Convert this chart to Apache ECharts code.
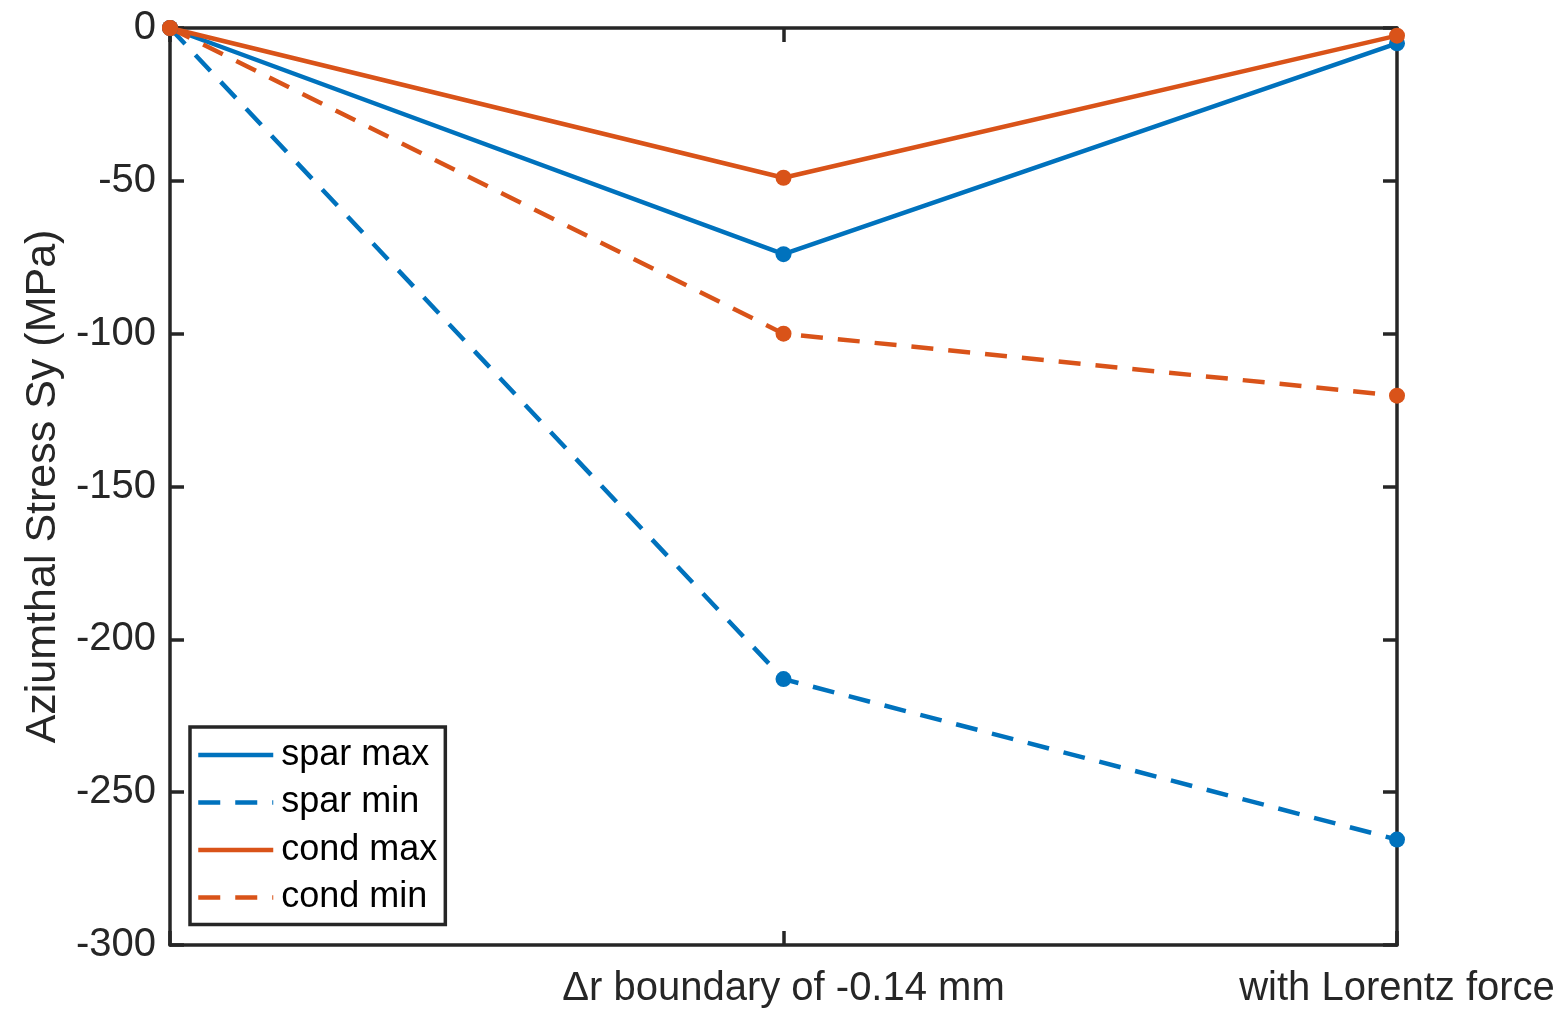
<!DOCTYPE html>
<html><head><meta charset="utf-8">
<script src="https://cdn.jsdelivr.net/npm/echarts@6/dist/echarts.min.js"></script>
<style>html,body{margin:0;padding:0;background:#fff}#c{width:1562px;height:1013px}</style>
</head><body><div id="c"></div>
<script>
const categories = ['', 'Δr boundary of -0.14 mm', 'with Lorentz force'];
const sparMax = [0, -74, -5];
const sparMin = [0, -213, -265.5];
const condMax = [0, -49, -2.5];
const condMin = [0, -100, -120.3];
const yTicks = {min: -300, max: 0, interval: 50};

const blue = '#0072BD', orange = '#D95319', axisCol = '#262626';
const font = 'Liberation Sans, Arial, sans-serif';

function lineSeries(name, data, color, dashed) {
  return {
    name, type: 'line', data, symbol: 'none', xAxisIndex: 0, yAxisIndex: 0,
    lineStyle: {color, width: 4.5, type: dashed ? [22, 15] : 'solid'},
    itemStyle: {color}, z: 3, animation: false
  };
}
function dotSeries(name, data, color) {
  return {
    name: name + '_pts', type: 'scatter', data, symbol: 'circle', symbolSize: 16,
    itemStyle: {color, opacity: 1}, z: 4, animation: false, xAxisIndex: 0, yAxisIndex: 0
  };
}
const chart = echarts.init(document.getElementById('c'), null, {renderer: 'canvas'});
const axisLine = {show: true, onZero: false, lineStyle: {color: axisCol, width: 3.5}};
const tick = {show: true, inside: true, length: 14, lineStyle: {color: axisCol, width: 3.5}};
chart.setOption({
  backgroundColor: '#fff',
  animation: false,
  grid: {left: 170, right: 165, top: 28, bottom: 68, containLabel: false},
  legend: {
    orient: 'vertical', left: 190, top: 727,
    data: ['spar max', 'spar min', 'cond max', 'cond min'],
    itemWidth: 75, itemHeight: 20, itemGap: 11.5,
    padding: [10, 8, 9, 6],
    borderColor: '#262626', borderWidth: 3.5, backgroundColor: '#fff',
    itemStyle: {opacity: 0},
    lineStyle: {width: 4.5},
    textStyle: {fontFamily: font, fontSize: 36, color: '#000', padding: [0, 0, 0, 3]}
  },
  xAxis: [{
    type: 'category', data: categories, boundaryGap: false, position: 'bottom',
    axisLine, axisTick: tick,
    axisLabel: {fontFamily: font, fontSize: 40, color: '#262626', margin: 24, interval: 0},
    splitLine: {show: false}
  }, {
    type: 'category', data: categories, boundaryGap: false, position: 'top',
    axisLine, axisTick: tick,
    axisLabel: {show: false}, splitLine: {show: false}
  }],
  yAxis: [{
    type: 'value', min: yTicks.min, max: yTicks.max, interval: yTicks.interval, position: 'left',
    name: 'Aziumthal Stress Sy (MPa)', nameLocation: 'middle', nameGap: 105,
    nameTextStyle: {fontFamily: font, fontSize: 43, color: '#262626'},
    axisLine, axisTick: tick,
    axisLabel: {fontFamily: font, fontSize: 40, color: '#262626', margin: 14},
    splitLine: {show: false}
  }, {
    type: 'value', min: yTicks.min, max: yTicks.max, interval: yTicks.interval, position: 'right',
    axisLine, axisTick: tick,
    axisLabel: {show: false}, splitLine: {show: false}
  }],
  series: [
    lineSeries('spar max', sparMax, blue, false),
    lineSeries('spar min', sparMin, blue, true),
    lineSeries('cond max', condMax, orange, false),
    lineSeries('cond min', condMin, orange, true),
    dotSeries('spar max', sparMax, blue),
    dotSeries('spar min', sparMin, blue),
    dotSeries('cond max', condMax, orange),
    dotSeries('cond min', condMin, orange)
  ]
});
</script></body></html>
